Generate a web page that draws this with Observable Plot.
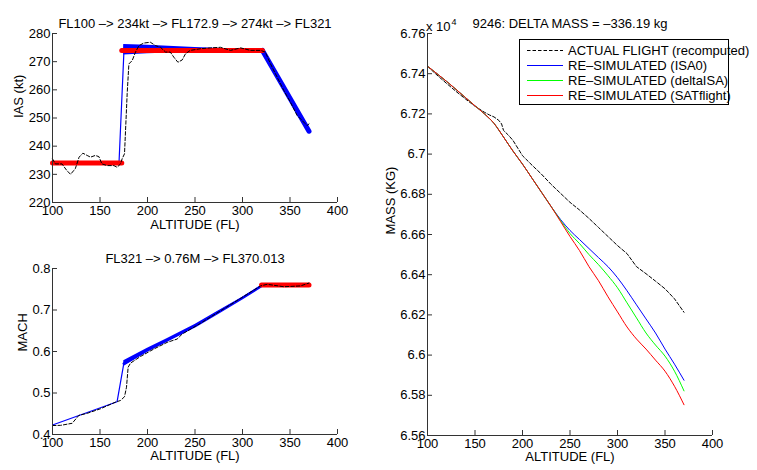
<!DOCTYPE html>
<html><head><meta charset="utf-8">
<script src="https://cdn.jsdelivr.net/npm/d3@7"></script>
<script src="https://cdn.jsdelivr.net/npm/@observablehq/plot@0.6"></script>
<style>
body{margin:0;background:#fff;}
#fig{position:relative;width:757px;height:470px;font-family:"Liberation Sans",Arial,Helvetica,sans-serif;color:#000;overflow:hidden;background:#fff}
#fig > svg{position:absolute}
.lab{position:absolute;font-size:13px;white-space:nowrap}
</style></head>
<body><div id="fig"></div>
<script>
// ---------- shared ----------
const xTicks = [100,150,200,250,300,350,400];
const xDomain = [100,400];

// ---------- IAS subplot ----------
const iasTitle = "FL100 –> 234kt –> FL172.9 –> 274kt –> FL321";
const iasTicks = [220,230,240,250,260,270,280];
const iasActFL = [100,103,110,115,119,124,128,132,136.5,140,145,148.8,152,157.5,164.6,168,171.6,173.3,175.8,178.6,180.4,183.9,187.4,191,196,203,208.4,213.7,219,224,227.7,232,236.5,240,245,255.8,266.3,276.8,287.4,298,308.4,319,324,329.5,336.5,343.5,350.5,357.5,362.8,368,370];
const iasAct   = [235.5,233.7,233.7,231.4,230,232,236.1,237.5,236.7,236.1,236.7,236.3,233.7,233.1,233.1,232.5,233.7,235.5,237.3,258.6,269.2,270.4,273.4,275.7,276.6,276.9,275.7,275.1,273.4,273.4,271.6,269.8,270.6,272.8,274,274.6,274.9,275.1,274,274.9,274,274,273.4,269.2,264.5,259.8,255.6,250.9,249.1,247.3,247.9];
const iasBlueFL = [100,170,175.5];
const iasBlue   = [234,234,276];
const iasBandFL = [175,200,250,300,321];
const iasBandLo = [272.4,272.8,273.3,273.7,274];
const iasBandHi = [276.1,275.8,275.0,274.4,274];
const iasDescFL = [321,370];
const iasDesc   = [274,245.3];
const iasRed1FL = [100,172.9];
const iasRed1   = [234,234];
const iasRed2FL = [172.9,321];
const iasRed2   = [274,274];

// ---------- MACH subplot ----------
const machTitle = "FL321 –> 0.76M –> FL370.013";
const machTicks = [0.4,0.5,0.6,0.7,0.8];
const machActFL = [100,108.4,120.7,127.7,136.5,150.5,166.3,171.6,175.8,177.9,179.6,182.1,192.6,206.7,220.7,231.2,236.5,255.8,290.9,319,326,343.5,361,370];
const machAct   = [0.4216,0.422,0.427,0.446,0.451,0.462,0.478,0.482,0.491,0.514,0.562,0.572,0.588,0.606,0.622,0.630,0.642,0.668,0.718,0.758,0.762,0.756,0.758,0.765];
const machBlueFL = [100,168,175];
const machBlue   = [0.423,0.479,0.570];
const machBandFL = [175,200,220,250,275,300,320];
const machBandLo = [0.564,0.598,0.622,0.657,0.692,0.727,0.757];
const machBandHi = [0.578,0.608,0.630,0.665,0.698,0.731,0.759];
const machRedFL = [320,370];
const machRed   = [0.76,0.76];

// ---------- MASS subplot ----------
const massTitle = "9246: DELTA MASS = –336.19 kg";
const massTicks = [65600,65800,66000,66200,66400,66600,66800,67000,67200,67400,67600];
const massFL = [100,110,120,130,140,150,160,165,170,175,180,190,200,210,220,230,240,250,260,270,280,290,300,310,320,330,340,350,360,370];
const massISA0   = [67437,67400,67362,67322,67281,67240,67200,67178,67153,67120,67085,67015,66950,66880,66810,66740,66675,66620,66575,66530,66485,66440,66385,66320,66250,66180,66110,66030,65955,65875];
const massDelta  = [67437,67400,67362,67322,67281,67240,67200,67178,67153,67120,67085,67015,66950,66880,66810,66740,66670,66605,66555,66500,66450,66395,66335,66260,66185,66110,66050,65995,65920,65822];
const massSAT    = [67437,67400,67362,67322,67281,67240,67200,67178,67153,67120,67085,67015,66950,66880,66810,66740,66665,66590,66520,66440,66370,66290,66215,66140,66080,66030,65975,65920,65845,65753];
const massActFL  = [100,110,120,130,140,150,160,165,170,175,178,180,185,190,200,210,220,230,240,250,260,270,280,290,300,310,320,330,340,350,360,370];
const massAct    = [67437,67393,67352,67312,67274,67238,67208,67195,67185,67168,67150,67118,67095,67068,66992,66945,66900,66850,66805,66760,66722,66680,66635,66590,66545,66505,66440,66405,66368,66330,66280,66213];
const legendLabels = ["ACTUAL FLIGHT (recomputed)","RE–SIMULATED (ISA0)","RE–SIMULATED (deltaISA)","RE–SIMULATED (SATflight)"];
const legendColors = ["#000000","#0000ff","#00ff00","#ff0000"];

// ---------- helpers ----------
const zip = (xs, ys) => xs.map((x, i) => ({x, y: ys[i]}));
const zip3 = (xs, a, b) => xs.map((x, i) => ({x, y1: a[i], y2: b[i]}));
const FONT = '"Liberation Sans",Arial,Helvetica,sans-serif';
const DASH = "3.5,2";

function matlabAxes(yDomain, yTicks, yFormat, title, ylabel, ylabelDx, xlabelDy) {
  return [
    Plot.ruleY([yDomain[0]], {stroke: "#333"}),
    Plot.ruleX([xDomain[0]], {stroke: "#333"}),
    Plot.axisX(xTicks, {tickSize: -5, tickPadding: 8, label: null, fontSize: 13, stroke: "#333"}),
    Plot.axisY(yTicks, {tickSize: -5, tickPadding: 7, label: null, tickFormat: yFormat, fontSize: 13, stroke: "#333"}),
    Plot.text([title], {frameAnchor: "top", dy: -15, fontSize: 13}),
    Plot.text(["ALTITUDE (FL)"], {frameAnchor: "bottom", dy: xlabelDy, fontSize: 13}),
    Plot.text([ylabel], {frameAnchor: "left", rotate: -90, dx: ylabelDx, fontSize: 13})
  ];
}

const fig = document.getElementById("fig");
function place(svg, left, top) {
  svg.style.left = left + "px"; svg.style.top = top + "px";
  fig.appendChild(svg);
}

// IAS
const ias = Plot.plot({
  width: 380, height: 240, marginLeft: 52, marginRight: 43, marginTop: 33, marginBottom: 38,
  style: {fontFamily: FONT, fontSize: "13px", background: "transparent", color: "#000"},
  x: {domain: xDomain}, y: {domain: [220,280]},
  marks: [
    Plot.line(zip(iasBlueFL, iasBlue), {x: "x", y: "y", stroke: "#0000ff", strokeWidth: 1.2}),
    Plot.areaY(zip3(iasBandFL, iasBandLo, iasBandHi), {x: "x", y1: "y1", y2: "y2", fill: "#0000ff"}),
    Plot.line(zip(iasBandFL, iasBandLo.map((v,i)=>(v+iasBandHi[i])/2)), {x: "x", y: "y", stroke: "#0000ff", strokeWidth: 4}),
    Plot.line(zip(iasDescFL, iasDesc), {x: "x", y: "y", stroke: "#0000ff", strokeWidth: 5}),
    Plot.line(zip(iasRed1FL, iasRed1), {x: "x", y: "y", stroke: "#ff0000", strokeWidth: 5, strokeLinecap: "round"}),
    Plot.line(zip(iasRed2FL, iasRed2), {x: "x", y: "y", stroke: "#ff0000", strokeWidth: 5, strokeLinecap: "round"}),
    Plot.line(zip(iasActFL, iasAct), {x: "x", y: "y", stroke: "#000", strokeWidth: 1, strokeDasharray: DASH}),
    ...matlabAxes([220,280], iasTicks, d => String(d), iasTitle, "IAS (kt)", -34, 26)
  ]
});
place(ias, 0, 0);

// MACH
const mach = Plot.plot({
  width: 380, height: 235, marginLeft: 52, marginRight: 43, marginTop: 33, marginBottom: 36,
  style: {fontFamily: FONT, fontSize: "13px", background: "transparent", color: "#000"},
  x: {domain: xDomain}, y: {domain: [0.4,0.8]},
  marks: [
    Plot.line(zip(machBlueFL, machBlue), {x: "x", y: "y", stroke: "#0000ff", strokeWidth: 1.2}),
    Plot.areaY(zip3(machBandFL, machBandLo, machBandHi), {x: "x", y1: "y1", y2: "y2", fill: "#0000ff"}),
    Plot.line(zip(machBandFL, machBandLo.map((v,i)=>(v+machBandHi[i])/2)), {x: "x", y: "y", stroke: "#0000ff", strokeWidth: 2.5}),
    Plot.line(zip(machRedFL, machRed), {x: "x", y: "y", stroke: "#ff0000", strokeWidth: 5, strokeLinecap: "round"}),
    Plot.line(zip(machActFL, machAct), {x: "x", y: "y", stroke: "#000", strokeWidth: 1, strokeDasharray: DASH}),
    ...matlabAxes([0.4,0.8], machTicks, d => String(+d.toFixed(1)), machTitle, "MACH", -30, 25)
  ]
});
place(mach, 0, 235);

// MASS
const mass = Plot.plot({
  width: 377, height: 470, marginLeft: 47, marginRight: 45, marginTop: 33, marginBottom: 35,
  style: {fontFamily: FONT, fontSize: "13px", background: "transparent", color: "#000"},
  x: {domain: xDomain}, y: {domain: [65600,67600]},
  marks: [
    Plot.line(zip(massActFL, massAct), {x: "x", y: "y", stroke: "#000", strokeWidth: 1, strokeDasharray: DASH}),
    Plot.line(zip(massFL, massISA0), {x: "x", y: "y", stroke: "#0000ff", strokeWidth: 1, curve: "monotone-x"}),
    Plot.line(zip(massFL, massDelta), {x: "x", y: "y", stroke: "#00ff00", strokeWidth: 1, curve: "monotone-x"}),
    Plot.line(zip(massFL, massSAT), {x: "x", y: "y", stroke: "#ff0000", strokeWidth: 1, curve: "monotone-x"}),
    ...matlabAxes([65600,67600], massTicks, d => String(+(d/1e4).toFixed(2)), massTitle, "MASS (KG)", -37, 25)
  ]
});
place(mass, 380, 0);

// exponent label
const ex = document.createElement("div");
ex.className = "lab";
ex.style.left = "426px"; ex.style.top = "19px";
ex.innerHTML = 'x 10<span style="font-size:9px;position:relative;top:-6px;left:1px">4</span>';
fig.appendChild(ex);

// legend (single svg)
const NS = "http://www.w3.org/2000/svg";
const lg = document.createElementNS(NS, "svg");
lg.setAttribute("width", "240"); lg.setAttribute("height", "70");
lg.style.left = "518px"; lg.style.top = "38px"; lg.style.overflow = "visible";
const box = document.createElementNS(NS, "rect");
box.setAttribute("x", "1.5"); box.setAttribute("y", "1.5");
box.setAttribute("width", "209"); box.setAttribute("height", "65");
box.setAttribute("fill", "#fff"); box.setAttribute("stroke", "#000"); box.setAttribute("stroke-width", "1");
lg.appendChild(box);
legendLabels.forEach((t, i) => {
  const cy = 12.5 + i * 15;
  const ln = document.createElementNS(NS, "line");
  ln.setAttribute("x1", "9"); ln.setAttribute("x2", "45");
  ln.setAttribute("y1", cy); ln.setAttribute("y2", cy);
  ln.setAttribute("stroke", legendColors[i]); ln.setAttribute("stroke-width", "1");
  if (i === 0) ln.setAttribute("stroke-dasharray", DASH);
  lg.appendChild(ln);
  const tx = document.createElementNS(NS, "text");
  tx.setAttribute("x", "50"); tx.setAttribute("y", cy);
  tx.setAttribute("dy", "0.35em");
  tx.setAttribute("font-size", "13"); tx.setAttribute("font-family", FONT);
  tx.textContent = t;
  lg.appendChild(tx);
});
fig.appendChild(lg);
</script></body></html>
